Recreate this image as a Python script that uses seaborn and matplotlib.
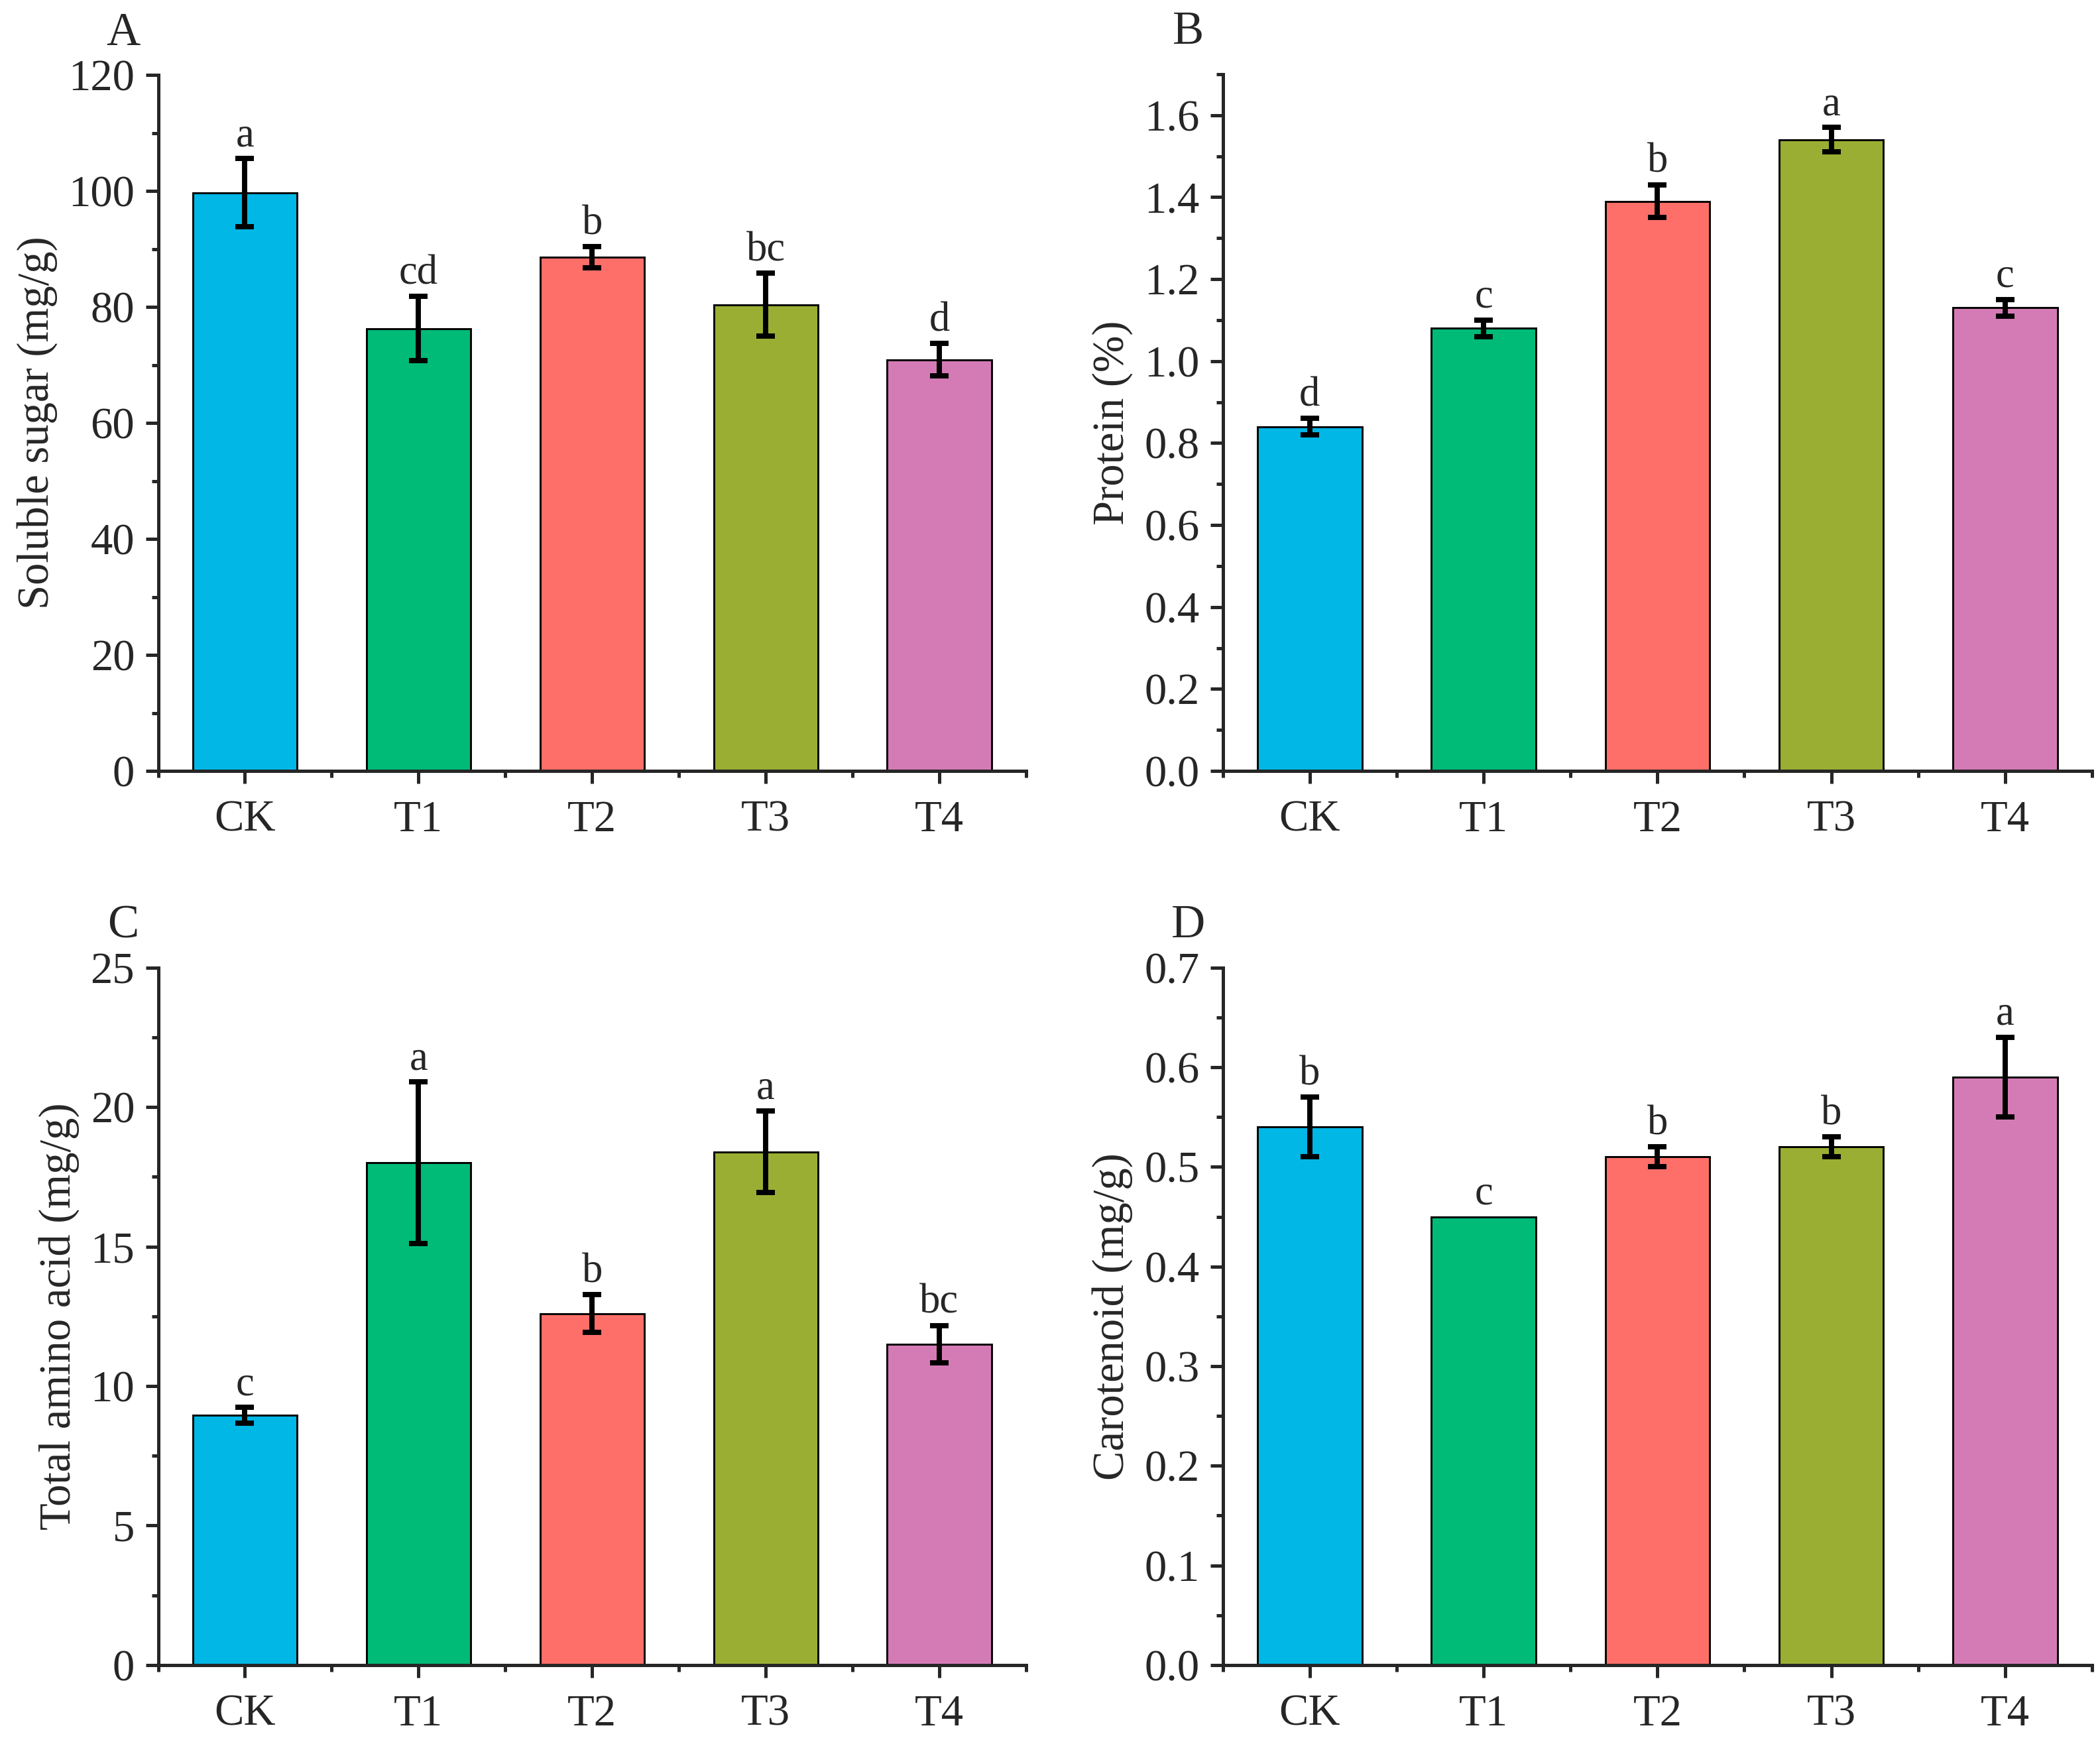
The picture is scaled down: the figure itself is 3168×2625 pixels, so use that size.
import matplotlib
matplotlib.use("Agg")
import matplotlib.pyplot as plt
import seaborn as sns
import pandas as pd
from matplotlib.ticker import MultipleLocator, FormatStrFormatter

# treatments and bar colours
groups = ["CK", "T1", "T2", "T3", "T4"]
colors = ["#00B7E6", "#00BA78", "#FF6F69", "#9AAE33", "#D47BB6"]

# panel A - soluble sugar (mg/g)
sugar = [99.7, 76.3, 88.6, 80.4, 70.9]
sugar_err = [5.9, 5.5, 1.8, 5.4, 2.8]
sugar_sig = ["a", "cd", "b", "bc", "d"]

# panel B - protein (%)
protein = [0.84, 1.08, 1.39, 1.54, 1.13]
protein_err = [0.02, 0.02, 0.04, 0.03, 0.02]
protein_sig = ["d", "c", "b", "a", "c"]

# panel C - total amino acid (mg/g)
amino = [8.95, 18.0, 12.6, 18.4, 11.5]
amino_err = [0.28, 2.9, 0.67, 1.45, 0.67]
amino_sig = ["c", "a", "b", "a", "bc"]

# panel D - carotenoid (mg/g)
carot = [0.54, 0.45, 0.51, 0.52, 0.59]
carot_err = [0.03, 0.0, 0.01, 0.01, 0.04]
carot_sig = ["b", "c", "b", "b", "a"]

sns.set_style("ticks")
plt.rcParams["font.family"] = ["Liberation Serif", "DejaVu Serif"]


def draw_panel(ax, values, errs, sig, ylabel, ymax, major, minor, fmt, letter):
    df = pd.DataFrame({"group": groups, "value": values})
    sns.barplot(data=df, x="group", y="value", hue="group", palette=colors,
                saturation=1, legend=False, width=0.6, edgecolor="black",
                linewidth=0.7, errorbar=None, ax=ax)
    xs = list(range(len(groups)))
    # error bars only where there is a spread
    ex = [x for x, e in zip(xs, errs) if e > 0]
    ev = [v for v, e in zip(values, errs) if e > 0]
    ee = [e for e in errs if e > 0]
    ax.errorbar(ex, ev, yerr=ee, fmt="none", ecolor="black",
                elinewidth=1.9, capsize=3.3, capthick=1.9, zorder=5)
    for x, v, e, s in zip(xs, values, errs, sig):
        ax.annotate(s, (x, v + e), xytext=(0, 1.2), textcoords="offset points",
                    ha="center", va="bottom", fontsize=15)
    ax.set_xlim(-0.5, 4.5)
    ax.set_ylim(0, ymax)
    ax.yaxis.set_major_locator(MultipleLocator(major))
    ax.yaxis.set_minor_locator(MultipleLocator(minor))
    ax.yaxis.set_major_formatter(FormatStrFormatter(fmt))
    ax.set_xticks(xs, minor=False)
    ax.set_xticks([x + 0.5 for x in xs] + [-0.5], minor=True)
    ax.set_xlabel("")
    ax.set_ylabel(ylabel, fontsize=16)
    sns.despine(ax=ax)
    for side in ("left", "bottom"):
        ax.spines[side].set_linewidth(1.2)
    ax.tick_params(axis="both", which="major", direction="out", length=4.5,
                   width=1.2, labelsize=16, pad=4)
    ax.tick_params(axis="both", which="minor", direction="out", length=2.3,
                   width=1.2)
    ax.tick_params(axis="x", which="major", pad=6)
    ax.text(-0.04, 1.06, letter, transform=ax.transAxes, ha="center",
            va="center", fontsize=17)


fig = plt.figure(figsize=(10.56, 8.75), dpi=300)
ax_a = fig.add_axes([0.0753, 0.5569, 0.4133, 0.4000])
ax_b = fig.add_axes([0.5823, 0.5569, 0.4139, 0.4005])
ax_c = fig.add_axes([0.0753, 0.0431, 0.4133, 0.4008])
ax_d = fig.add_axes([0.5823, 0.0431, 0.4139, 0.4008])

draw_panel(ax_a, sugar, sugar_err, sugar_sig, "Soluble sugar (mg/g)",
           120, 20, 10, "%d", "A")
draw_panel(ax_b, protein, protein_err, protein_sig, "Protein (%)",
           1.7, 0.2, 0.1, "%.1f", "B")
draw_panel(ax_c, amino, amino_err, amino_sig, "Total amino acid (mg/g)",
           25, 5, 2.5, "%d", "C")
draw_panel(ax_d, carot, carot_err, carot_sig, "Carotenoid (mg/g)",
           0.7, 0.1, 0.05, "%.1f", "D")

fig.savefig("out.png", dpi=300)
plt.close(fig)
